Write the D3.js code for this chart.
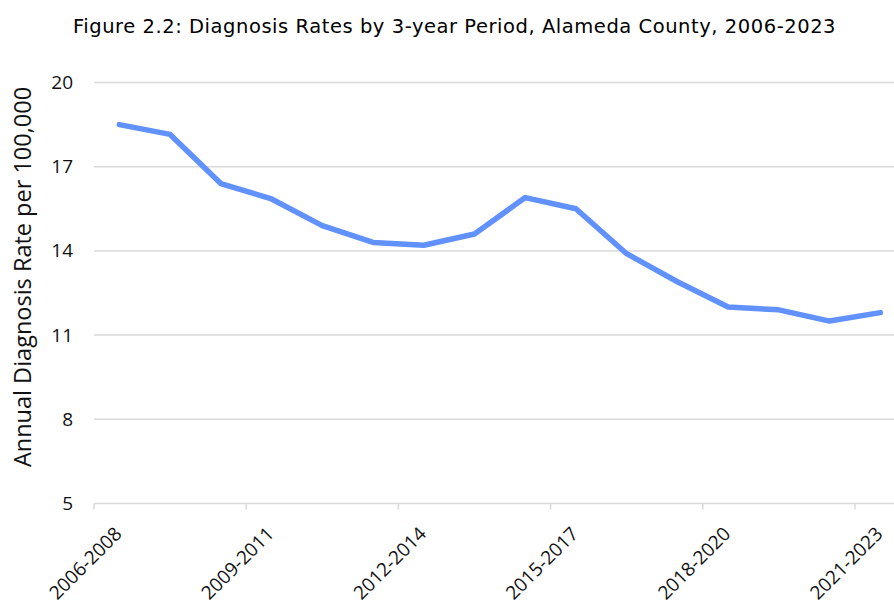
<!DOCTYPE html>
<html>
<head>
<meta charset="utf-8">
<script src="https://cdn.jsdelivr.net/npm/d3@7"></script>
<style>
  body { margin: 0; background: #fff; }
</style>
</head>
<body>
<div id="chart"></div>
<script>
// data
var periods = ["2006-2008", "2007-2009", "2008-2010", "2009-2011", "2010-2012", "2011-2013",
               "2012-2014", "2013-2015", "2014-2016", "2015-2017", "2016-2018", "2017-2019",
               "2018-2020", "2019-2021", "2020-2022", "2021-2023"]
var rates = [18.5, 18.15, 16.4, 15.85, 14.9, 14.3, 14.2, 14.6, 15.9, 15.5, 13.9, 12.9, 12.0, 11.9, 11.5, 11.8]
var yTicks = [5, 8, 11, 14, 17, 20]
var shownLabels = ["2006-2008", "2009-2011", "2012-2014", "2015-2017", "2018-2020", "2021-2023"]

var svgSize = { width: 894, height: 605 }
var margin = { top: 82.5, left: 94, bottom: 101.5 }
var plotWidth = 16 * 50.73
var plotHeight = svgSize.height - margin.top - margin.bottom

var svg = d3.select("#chart").append("svg")
    .attr("width", svgSize.width)
    .attr("height", svgSize.height)

var frame = svg.append("g")
    .attr("transform", `translate(${margin.left}, ${margin.top})`)

var xScale = d3.scaleBand()
    .domain(periods)
    .range([0, plotWidth])

var yScale = d3.scaleLinear()
    .domain([5, 20])
    .range([plotHeight, 0])

// gridlines
frame.append("g")
    .selectAll("line").data(yTicks)
    .enter().append("line")
    .attr("x1", 0)
    .attr("x2", plotWidth)
    .attr("y1", d => yScale(d))
    .attr("y2", d => yScale(d))
    .attr("stroke", "#d9d9d9")
    .attr("stroke-width", 1.5)

// y axis labels
var leftAxis = d3.axisLeft(yScale).tickValues(yTicks).tickSize(0).tickPadding(21)
var yAxisG = frame.append("g").call(leftAxis)
yAxisG.select(".domain").remove()
yAxisG.selectAll("text")
    .attr("font-family", "'Open Sans', sans-serif")
    .attr("font-size", 19)
    .attr("fill", "#111")

// x axis ticks at every third band boundary
var tickPeriods = periods.filter((p, i) => i % 3 == 0)
var xAxisG = frame.append("g").attr("transform", `translate(0, ${plotHeight})`)
xAxisG.selectAll("line.tick").data(tickPeriods)
    .enter().append("line")
    .attr("class", "tick")
    .attr("x1", d => xScale(d))
    .attr("x2", d => xScale(d))
    .attr("y1", 0)
    .attr("y2", 6)
    .attr("stroke", "#d9d9d9")
    .attr("stroke-width", 1.5)

xAxisG.selectAll("text").data(shownLabels)
    .enter().append("text")
    .attr("transform", d => `translate(${xScale(d) + xScale.bandwidth() / 2}, 28) rotate(-45)`)
    .attr("text-anchor", "end")
    .attr("dominant-baseline", "middle")
    .attr("font-family", "'Open Sans', sans-serif")
    .attr("font-size", 19)
    .attr("fill", "#111")
    .text(d => d)

// the line
var line = d3.line()
    .x((d, i) => xScale(periods[i]) + xScale.bandwidth() / 2)
    .y(d => yScale(d))

frame.append("path")
    .datum(rates)
    .attr("d", line)
    .attr("fill", "none")
    .attr("stroke", "#6191fd")
    .attr("stroke-width", 5.5)
    .attr("stroke-linejoin", "round")
    .attr("stroke-linecap", "round")

// y axis title
svg.append("text")
    .attr("transform", "translate(25, 277) rotate(-90)")
    .attr("text-anchor", "middle")
    .attr("dominant-baseline", "middle")
    .attr("font-family", "'Open Sans', sans-serif")
    .attr("font-size", 23.5)
    .attr("fill", "#111")
    .text("Annual Diagnosis Rate per 100,000")

// title
svg.append("text")
    .attr("x", 454.5)
    .attr("y", 33)
    .attr("text-anchor", "middle")
    .attr("font-family", "'DejaVu Sans', sans-serif")
    .attr("font-size", 19.5)
    .attr("letter-spacing", 0.55)
    .attr("fill", "#000")
    .text("Figure 2.2: Diagnosis Rates by 3-year Period, Alameda County, 2006-2023")
</script>
</body>
</html>
